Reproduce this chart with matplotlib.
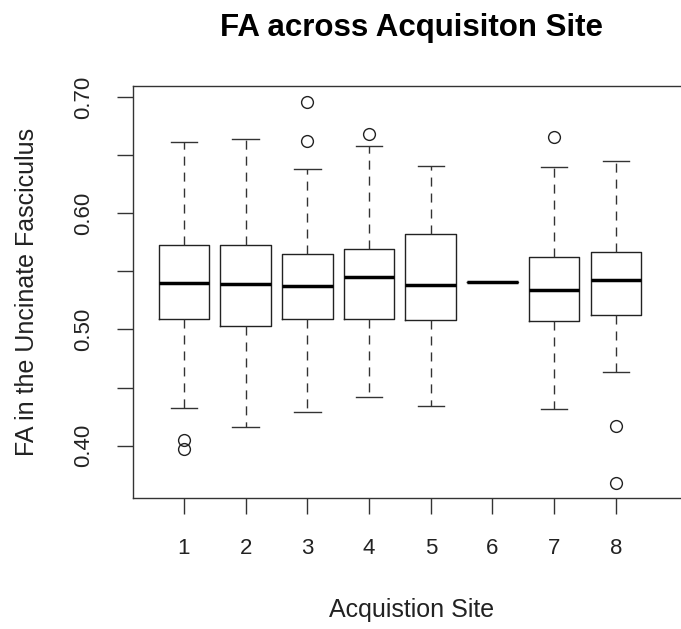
import matplotlib.pyplot as plt

plt.rcParams["font.family"] = ["Liberation Sans", "DejaVu Sans"]
plt.rcParams["lines.scale_dashes"] = False

# values
sites = [1, 2, 3, 4, 5, 6, 7, 8]
whisker_low = [0.4328, 0.4158, 0.4293, 0.4416, 0.4339, 0.5408, 0.4319, 0.4632]
q1 = [0.5089, 0.5031, 0.5089, 0.5089, 0.5080, 0.5408, 0.5074, 0.5129]
median = [0.5402, 0.5388, 0.5376, 0.5448, 0.5385, 0.5408, 0.5339, 0.5425]
q3 = [0.5727, 0.5727, 0.5652, 0.5690, 0.5822, 0.5408, 0.5626, 0.5669]
whisker_high = [0.6617, 0.6640, 0.6382, 0.6580, 0.6410, 0.5408, 0.6402, 0.6448]
outliers = [[0.4052, 0.3974], [], [0.6957, 0.6621], [0.6681], [], [], [0.6661], [0.4169, 0.3678]]

y_ticks = [0.40, 0.45, 0.50, 0.55, 0.60, 0.65, 0.70]
y_labels = ["0.40", "", "0.50", "", "0.60", "", "0.70"]

stats = []
for i in range(len(sites)):
    stats.append({"whislo": whisker_low[i], "q1": q1[i], "med": median[i],
                  "q3": q3[i], "whishi": whisker_high[i], "fliers": outliers[i]})

fig = plt.figure(figsize=(6.81, 6.29), dpi=100)
ax = fig.add_axes([0.1957, 0.2083, 0.817, 0.655])

ax.bxp(stats, positions=sites, widths=0.82, showfliers=True,
       boxprops=dict(color="#222222", linewidth=1.0),
       medianprops=dict(color="black", linewidth=2.5, solid_capstyle="butt"),
       whiskerprops=dict(color="#333333", linewidth=1.0, linestyle=(0, (6.5, 5))),
       capprops=dict(color="#333333", linewidth=1.0),
       capwidths=0.43,
       flierprops=dict(marker="o", markerfacecolor="none", markeredgecolor="#222222",
                       markersize=8.5, markeredgewidth=1.0))

ax.set_xlim(0.178, 9.196)
ax.set_ylim(0.3549, 0.7097)
ax.set_xticks(sites)
ax.set_xticklabels([str(s) for s in sites])
ax.set_yticks(y_ticks)
ax.set_yticklabels(y_labels, rotation=90, va="center")

for side in ["top", "left", "bottom", "right"]:
    ax.spines[side].set_color("#333333")
    ax.spines[side].set_linewidth(1.0)

ax.tick_params(axis="both", length=11.5, width=1.0, color="#333333", labelsize=16, labelcolor="#222222")
ax.tick_params(axis="x", pad=17.5)
ax.tick_params(axis="y", pad=16.5)

ax.set_xlabel("Acquistion Site", fontsize=18, color="#222222", labelpad=28)
ax.set_ylabel("FA in the Uncinate Fasciculus", fontsize=18, color="#222222", labelpad=25)
ax.set_title("FA across Acquisiton Site", fontsize=22.5, fontweight="bold", pad=36)

fig.savefig("out.png", dpi=100)
